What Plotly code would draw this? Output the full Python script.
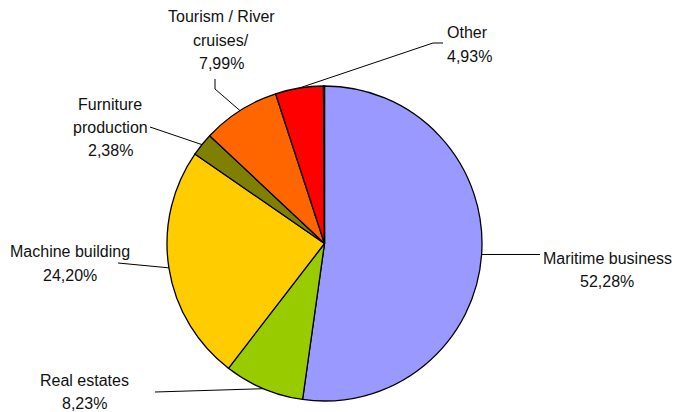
import math
import plotly.graph_objects as go

# ---- data ----
categories = ["Maritime business", "Real estates", "Machine building",
              "Furniture production", "Tourism / River cruises/", "Other", ""]
values = [52.28, 8.23, 24.20, 2.38, 7.99, 4.93, 0.10]
pct_labels = ["52,28%", "8,23%", "24,20%", "2,38%", "7,99%", "4,93%", ""]
colors = ["#9999FF", "#99CC00", "#FFCC00", "#808000", "#FF6600", "#FF0000", "#E0E0E0"]

# label text lines (per category, for the outside labels)
label_lines = [
    ["Maritime business", "52,28%"],
    ["Real estates", "8,23%"],
    ["Machine building", "24,20%"],
    ["Furniture", "production", "2,38%"],
    ["Tourism / River", "cruises/", "7,99%"],
    ["Other", "4,93%"],
]

W, H = 675, 412
CX, CY, R = 324.5, 243.5, 157.5

fig = go.Figure(go.Pie(
    labels=categories, values=values, sort=False, direction="clockwise",
    rotation=0, textinfo="none", hoverinfo="label+percent",
    marker=dict(colors=colors, line=dict(color="black", width=1.3)),
    domain=dict(x=[(CX - R) / W, (CX + R) / W], y=[1 - (CY + R) / H, 1 - (CY - R) / H]),
    showlegend=False,
))

def px(x):
    return x / W

def py(y):
    return 1 - y / H

# mid-angle edge points computed from data
total = sum(values)
cum = 0
edge = []
for v in values:
    mid = (cum + v / 2) / total * 2 * math.pi
    cum += v
    edge.append((CX + R * math.sin(mid), CY - R * math.cos(mid)))

# label layout: (anchor x, first line y, xanchor, leader path after the edge point)
layout_spec = [
    (607, 258, "center", [(540, None)]),
    (84, 380, "center", [(155, 392)]),
    (70, 252, "center", [(118, 263)]),
    (110, 104, "center", [(150, 127)]),
    (221, 17, "center", [(215, 89), (215, 79)]),
    (445, 33, "left", [(433, 43), (443, 43)]),
]

shapes = []
annotations = []
for i, (ax, ay, xa, path) in enumerate(layout_spec):
    for j, line in enumerate(label_lines[i]):
        annotations.append(dict(
            x=px(ax), y=py(ay + j * 23.5), xref="paper", yref="paper",
            text=line, showarrow=False, xanchor=xa, yanchor="middle",
            font=dict(family="Liberation Sans, Arial, sans-serif", size=16, color="#111111"),
        ))
    pts = [edge[i]]
    for (x, y) in path:
        pts.append((x, pts[-1][1] if y is None else y))
    d = "M " + " L ".join(f"{px(x)},{py(y)}" for x, y in pts)
    shapes.append(dict(type="path", path=d, xref="paper", yref="paper",
                       line=dict(color="black", width=1)))

fig.update_layout(
    width=W, height=H, margin=dict(l=0, r=0, t=0, b=0),
    paper_bgcolor="white", plot_bgcolor="white",
    shapes=shapes, annotations=annotations,
)

fig.write_html("out.html", config={"displayModeBar": False},
               post_script="document.body.style.margin='0';document.body.style.overflow='hidden';")
